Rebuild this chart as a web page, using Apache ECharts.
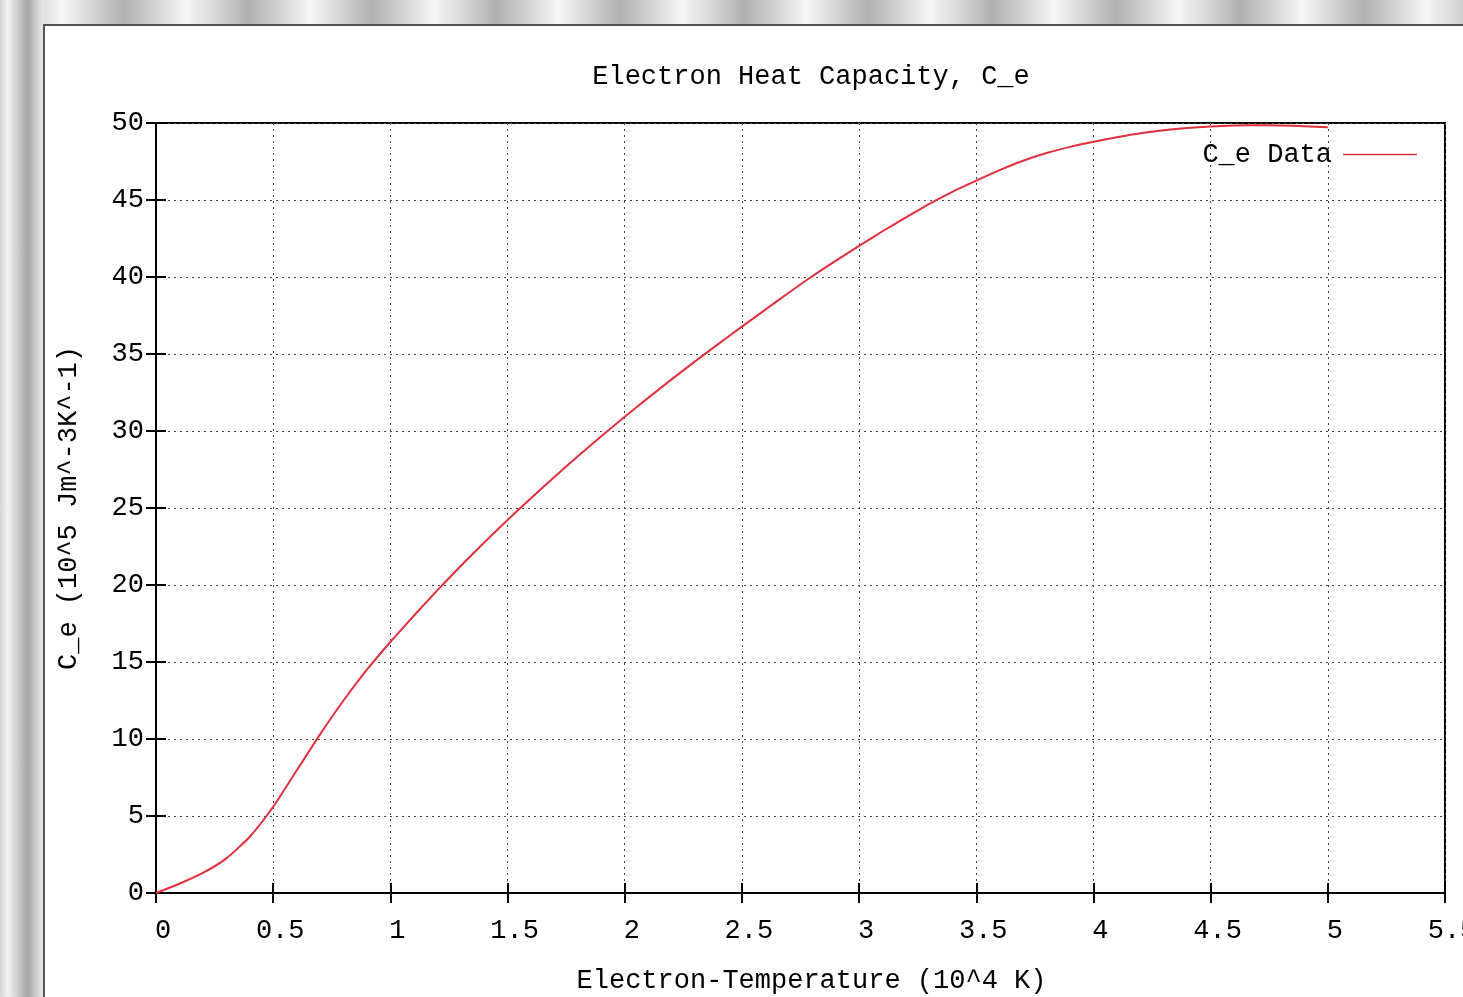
<!DOCTYPE html>
<html>
<head>
<meta charset="utf-8">
<script src="https://cdn.jsdelivr.net/npm/echarts@6/dist/echarts.min.js"></script>
<style>
  html, body { margin:0; padding:0; width:1463px; height:997px; overflow:hidden; }
  body {
    background:
      repeating-linear-gradient(to right, #b0b0b0 0px, #d4d4d4 32px, #f6f6f6 62px, #d4d4d4 94px, #b0b0b0 124px);
  }
  #leftband {
    position:absolute; left:0; top:0; width:44px; height:997px;
    background: linear-gradient(to right, #d4d4d4 0px, #f2f2f2 8px, #c4c4c4 20px, #a8a8a8 28px, #dcdcdc 40px, #e8e8e8 44px);
  }
  #panel {
    position:absolute; left:43px; top:24px; width:1420px; height:973px;
    background:#ffffff; border-left:2px solid #555; border-top:2px solid #555;
  }
  #chart { position:absolute; left:0; top:0; width:1463px; height:997px; }
</style>
</head>
<body>
<div id="leftband"></div>
<div id="panel"></div>
<div id="chart"></div>
<script>
// Electron temperature (10^4 K)
const temperature = [0, 0.1, 0.2, 0.3, 0.4, 0.5, 0.6, 0.7, 0.8, 0.9,
  1.0, 1.1, 1.2, 1.3, 1.4, 1.5, 1.6, 1.7, 1.8, 1.9,
  2.0, 2.1, 2.2, 2.3, 2.4, 2.5, 2.6, 2.7, 2.8, 2.9,
  3.0, 3.1, 3.2, 3.3, 3.4, 3.5, 3.6, 3.7, 3.8, 3.9,
  4.0, 4.1, 4.2, 4.3, 4.4, 4.5, 4.6, 4.7, 4.8, 4.9, 5.0];
// C_e (10^5 J m^-3 K^-1)
const heatCapacity = [0, 0.6, 1.3, 2.25, 3.65, 5.6, 7.95, 10.3, 12.5, 14.5,
  16.3, 18.0, 19.65, 21.23, 22.75, 24.22, 25.64, 27.02, 28.36, 29.66,
  30.92, 32.15, 33.35, 34.52, 35.66, 36.78, 37.88, 38.98, 40.05, 41.05,
  42.02, 42.97, 43.87, 44.75, 45.55, 46.26, 46.94, 47.55, 48.05, 48.45,
  48.78, 49.07, 49.33, 49.53, 49.68, 49.78, 49.84, 49.86, 49.84, 49.79, 49.72];

const chartTitle = 'Electron Heat Capacity, C_e';
const xAxisName = 'Electron-Temperature (10^4 K)';
const yAxisName = 'C_e (10^5 Jm^-3K^-1)';
const seriesName = 'C_e Data';

const FONT = 'Liberation Mono';
const chart = echarts.init(document.getElementById('chart'), null, { renderer: 'canvas' });

const gridLine = { show: true, lineStyle: { color: '#444', type: [2, 4], width: 1 } };
const tick = { show: true, inside: true, length: 10, lineStyle: { color: '#000', width: 2 } };

chart.setOption({
  backgroundColor: 'transparent',
  animation: false,
  title: {
    text: chartTitle,
    left: 811, top: 63, textAlign: 'center', padding: 0,
    textStyle: { fontFamily: FONT, fontSize: 27, fontWeight: 'normal', color: '#000' }
  },
  legend: {
    data: [{ name: seriesName, icon: 'path://M0,0 L100,0 L100,2 L0,2 Z' }],
    right: 46, top: 141, align: 'right', padding: 0,
    itemWidth: 74, itemHeight: 2,
    textStyle: { fontFamily: FONT, fontSize: 27, color: '#000', padding: [0, 6, 0, 0] }
  },
  grid: {
    left: 156, right: 18, top: 123, bottom: 104, outerBoundsMode: 'none',
    show: true, borderColor: '#000', borderWidth: 2, backgroundColor: 'transparent'
  },
  xAxis: [
    {
      type: 'value', min: 0, max: 5.5, interval: 0.5, position: 'bottom',
      name: xAxisName, nameLocation: 'middle', nameGap: 74,
      nameTextStyle: { fontFamily: FONT, fontSize: 27, color: '#000', padding: [0, 0, 0, 22] },
      axisLine: { show: true, lineStyle: { color: '#000', width: 2 } },
      axisTick: tick,
      axisLabel: { fontFamily: FONT, fontSize: 27, color: '#000', margin: 24, padding: [0, 0, 0, 14],
        showMaxLabel: true, hideOverlap: false, formatter: v => String(+v.toFixed(1)) },
      splitLine: gridLine
    },
    {
      type: 'value', min: 0, max: 5.5, interval: 0.5, position: 'top',
      axisLine: { show: true, lineStyle: { color: '#000', width: 2 } },
      axisTick: tick, axisLabel: { show: false }, splitLine: { show: false }
    }
  ],
  yAxis: [
    {
      type: 'value', min: 0, max: 50, interval: 5, position: 'left',
      name: yAxisName, nameLocation: 'middle', nameGap: 74,
      nameTextStyle: { fontFamily: FONT, fontSize: 27, color: '#000' },
      axisLine: { show: true, lineStyle: { color: '#000', width: 2 } },
      axisTick: tick,
      axisLabel: { fontFamily: FONT, fontSize: 27, color: '#000', margin: 12 },
      splitLine: gridLine
    },
    {
      type: 'value', min: 0, max: 50, interval: 5, position: 'right',
      axisLine: { show: true, lineStyle: { color: '#000', width: 2 } },
      axisTick: tick, axisLabel: { show: false }, splitLine: { show: false }
    }
  ],
  series: [{
    name: seriesName,
    type: 'line',
    xAxisIndex: 0, yAxisIndex: 0,
    data: temperature.map((t, i) => [t, heatCapacity[i]]),
    smooth: 0.2,
    showSymbol: false,
    lineStyle: { color: '#e0303c', width: 2 },
    itemStyle: { color: '#e0303c' }
  }]
});
</script>
</body>
</html>
